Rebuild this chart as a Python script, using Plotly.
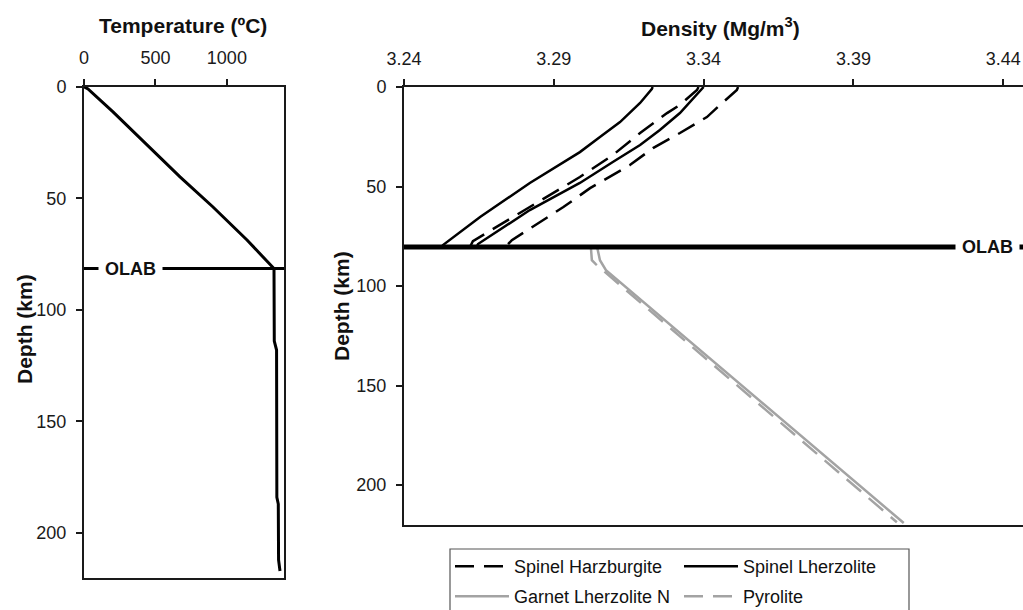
import plotly.graph_objects as go

W, H = 1023, 610

# ---------------- data ----------------
# Geotherm (left panel)
temp_c = [0, 28, 203, 441, 672, 903, 1141, 1330, 1332, 1348, 1350, 1360, 1362, 1372]
temp_depth = [0, 1, 11.3, 26.1, 40.4, 53.9, 68.7, 81.5, 114, 118, 184, 187, 212, 217]
olab_depth_temp = 81.5

# Density profiles (right panel)
lherz_a_rho = [3.3230, 3.3227, 3.3188, 3.3121, 3.3054, 3.2987, 3.2820, 3.2654, 3.2530, 3.2522]
lherz_a_depth = [0, 1, 8, 17.6, 25.1, 32.7, 48.2, 65.3, 79.4, 81]

lherz_b_rho = [3.3400, 3.3321, 3.3254, 3.3188, 3.3097, 3.2987, 3.2820, 3.2647, 3.2640]
lherz_b_depth = [0, 13.1, 21.6, 29.1, 37.7, 48.2, 61.8, 78.9, 81]

harz_a_rho = [3.3383, 3.3378, 3.3321, 3.3278, 3.3188, 3.3097, 3.2987, 3.2877, 3.2764, 3.2630, 3.2618]
harz_a_depth = [0, 1.5, 9, 13.1, 23.1, 34.2, 45.2, 55.3, 65.3, 77.4, 81]

harz_b_rho = [3.3515, 3.3511, 3.3455, 3.3411, 3.3321, 3.3231, 3.3154, 3.3021, 3.2932, 3.2864, 3.2760, 3.2735]
harz_b_depth = [0, 1.5, 9, 15.1, 23.1, 30.7, 39.2, 50.8, 60.3, 66.8, 76.9, 81]

garnet_rho = [3.3044, 3.3054, 3.3074, 3.3534, 3.4068]
garnet_depth = [80, 87, 92, 150.8, 219]

pyrolite_rho = [3.3024, 3.3027, 3.3040, 3.4045]
pyrolite_depth = [81, 87, 89, 218.6]

olab_depth_rho = 80.4

temp_ticks = [0, 500, 1000]
depth_ticks = [0, 50, 100, 150, 200]
rho_ticks = [3.24, 3.29, 3.34, 3.39, 3.44]

# ---------------- figure ----------------
FONT = "Liberation Sans, Arial, sans-serif"
BLACK = "#000000"
GRAY = "#a3a3a3"
DASH = "19px,10px"

fig = go.Figure()

fig.add_trace(go.Scatter(x=temp_c, y=temp_depth, mode="lines", xaxis="x", yaxis="y",
                         line=dict(color=BLACK, width=3), showlegend=False))

fig.add_trace(go.Scatter(x=harz_a_rho, y=harz_a_depth, mode="lines", xaxis="x2", yaxis="y2",
                         name="Spinel Harzburgite", legend="legend",
                         line=dict(color=BLACK, width=2.5, dash=DASH)))
fig.add_trace(go.Scatter(x=lherz_a_rho, y=lherz_a_depth, mode="lines", xaxis="x2", yaxis="y2",
                         name="Spinel Lherzolite", legend="legend",
                         line=dict(color=BLACK, width=2.5)))
fig.add_trace(go.Scatter(x=harz_b_rho, y=harz_b_depth, mode="lines", xaxis="x2", yaxis="y2",
                         name="Spinel Harzburgite", showlegend=False,
                         line=dict(color=BLACK, width=2.5, dash=DASH)))
fig.add_trace(go.Scatter(x=lherz_b_rho, y=lherz_b_depth, mode="lines", xaxis="x2", yaxis="y2",
                         name="Spinel Lherzolite", showlegend=False,
                         line=dict(color=BLACK, width=2.5)))
fig.add_trace(go.Scatter(x=garnet_rho, y=garnet_depth, mode="lines", xaxis="x2", yaxis="y2",
                         name="Garnet Lherzolite N", legend="legend2",
                         line=dict(color=GRAY, width=2.5)))
fig.add_trace(go.Scatter(x=pyrolite_rho, y=pyrolite_depth, mode="lines", xaxis="x2", yaxis="y2",
                         name="Pyrolite", legend="legend2",
                         line=dict(color=GRAY, width=2.5, dash=DASH)))

axis_common = dict(showgrid=False, zeroline=False, showline=True, linecolor="#1a1a1a",
                   linewidth=2, ticks="outside", ticklen=6, tickwidth=1.5, automargin=False,
                   tickcolor="#1a1a1a", tickfont=dict(size=18, color="#1a1a1a", family=FONT))

legend_common = dict(orientation="h", xanchor="left", yanchor="top",
                     font=dict(size=18, family=FONT, color="#111"),
                     bgcolor="rgba(0,0,0,0)", borderwidth=0,
                     itemwidth=54, entrywidth=160, entrywidthmode="pixels",
                     itemclick=False, itemdoubleclick=False)

fig.update_layout(
    width=W, height=H,
    margin=dict(l=0, r=0, t=0, b=0, pad=0, autoexpand=False),
    paper_bgcolor="white", plot_bgcolor="white",
    font=dict(family=FONT, color="#111"),
    xaxis=dict(domain=[84 / W, 284 / W], range=[0, 1400], side="top", anchor="y",
               tickvals=temp_ticks, mirror=True, ticklabelstandoff=8, **axis_common),
    yaxis=dict(domain=[1 - 577.7 / H, 1 - 86.7 / H], range=[220, 0], anchor="x",
               tickvals=depth_ticks, mirror=True, ticklabelstandoff=6, **axis_common),
    xaxis2=dict(domain=[404 / W, 1.0], range=[3.24, 3.4466], side="top", anchor="y2",
                tickvals=rho_ticks, tickformat=".2f", mirror=True, ticklabelstandoff=7,
                **axis_common),
    yaxis2=dict(domain=[1 - 525 / H, 1 - 87 / H], range=[220, 0], anchor="x2",
                tickvals=depth_ticks, ticklabelstandoff=6, **axis_common),
    legend=dict(x=450 / W, y=1 - 548 / H, **legend_common),
    legend2=dict(x=450 / W, y=1 - 578 / H, **legend_common),
    showlegend=True,
)

# OLAB lines
fig.add_shape(type="line", xref="x domain", x0=0, x1=1, yref="y",
              y0=olab_depth_temp, y1=olab_depth_temp, line=dict(color=BLACK, width=3))
fig.add_shape(type="line", xref="x2 domain", x0=0, x1=1, yref="y2",
              y0=olab_depth_rho, y1=olab_depth_rho, line=dict(color=BLACK, width=5))

# Legend border
fig.add_shape(type="rect", xref="paper", yref="paper", x0=450 / W, x1=909 / W,
              y0=1 - 640 / H, y1=1 - 549 / H, line=dict(color="#555", width=1.2),
              fillcolor="rgba(0,0,0,0)")

ann_font_b = dict(family=FONT, size=21, color="#111")
fig.add_annotation(text="<b>Temperature (ºC)</b>", xref="paper", yref="paper",
                   x=183 / W, y=1 - 25 / H, showarrow=False, font=ann_font_b,
                   xanchor="center", yanchor="middle")
fig.add_annotation(text="<b>Density (Mg/m<sup>3</sup>)</b>", xref="paper", yref="paper",
                   x=720 / W, y=1 - 27 / H, showarrow=False, font=ann_font_b,
                   xanchor="center", yanchor="middle")
fig.add_annotation(text="<b>Depth (km)</b>", xref="paper", yref="paper",
                   x=24 / W, y=1 - 329 / H, showarrow=False, font=ann_font_b,
                   textangle=-90, xanchor="center", yanchor="middle")
fig.add_annotation(text="<b>Depth (km)</b>", xref="paper", yref="paper",
                   x=341 / W, y=1 - 306 / H, showarrow=False, font=ann_font_b,
                   textangle=-90, xanchor="center", yanchor="middle")

olab_font = dict(family=FONT, size=18, color="#111")
fig.add_annotation(text="<b>OLAB</b>", xref="paper", yref="y", x=130 / W, y=olab_depth_temp,
                   showarrow=False, font=olab_font, bgcolor="white", borderpad=6,
                   xanchor="center", yanchor="middle")
fig.add_annotation(text="<b>OLAB</b>", xref="paper", yref="y2", x=987 / W, y=olab_depth_rho,
                   showarrow=False, font=olab_font, bgcolor="white", borderpad=6,
                   xanchor="center", yanchor="middle")

fig.write_html("out.html")
